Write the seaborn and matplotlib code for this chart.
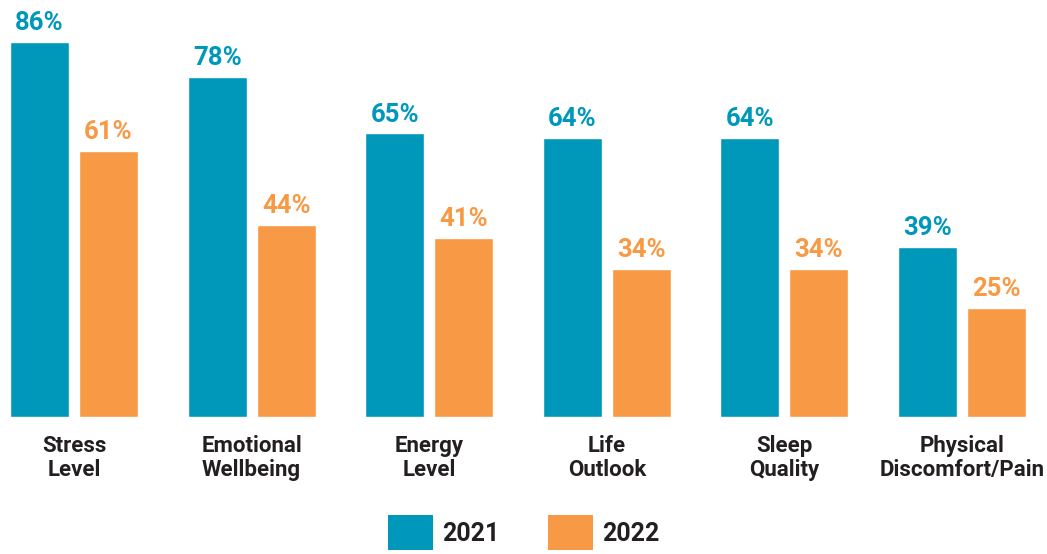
import matplotlib
matplotlib.use("Agg")
import matplotlib.pyplot as plt
from matplotlib.patches import Patch
import seaborn as sns
import pandas as pd

categories = ["Stress\nLevel", "Emotional\nWellbeing", "Energy\nLevel",
              "Life\nOutlook", "Sleep\nQuality", "Physical\nDiscomfort/Pain"]
values_2021 = [86, 78, 65, 64, 64, 39]
values_2022 = [61, 44, 41, 34, 34, 25]
years = ["2021", "2022"]

BLUE = "#0098BA"
ORANGE = "#F89A45"
DARK = "#231F20"

sns.set_theme(style="white")
plt.rcParams["font.family"] = ["Roboto", "DejaVu Sans"]

df = pd.DataFrame({
    "category": categories * 2,
    "value": values_2021 + values_2022,
    "year": [years[0]] * len(categories) + [years[1]] * len(categories),
})

fig = plt.figure(figsize=(10.47, 5.54), dpi=100)
ax = fig.add_axes([0, 137 / 554, 1, 417 / 554])

sns.barplot(data=df, x="category", y="value", hue="year",
            palette=[BLUE, ORANGE], width=0.777, gap=0.145,
            saturation=1, legend=False, ax=ax)

ax.set_xlim(-0.417, 5.479)
ax.set_ylim(0, 95.6)
ax.set_xlabel("")
ax.set_ylabel("")
ax.set_yticks([])
sns.despine(ax=ax, left=True, bottom=True)

for container, color in zip(ax.containers, [BLUE, ORANGE]):
    ax.bar_label(container, labels=[f"{v:.0f}%" for v in container.datavalues],
                 padding=5, color=color, fontsize=18.5, fontweight="bold")

ax.tick_params(axis="x", length=0, pad=13)
for lbl in ax.get_xticklabels():
    lbl.set_fontsize(16)
    lbl.set_fontweight("bold")
    lbl.set_color(DARK)
    lbl.set_linespacing(1.1)

handles = [Patch(facecolor=BLUE, edgecolor="none"),
           Patch(facecolor=ORANGE, edgecolor="none")]
leg = fig.legend(handles, years, loc="upper center",
                 bbox_to_anchor=(0.5, 1 - 515 / 554), ncol=2, frameon=False,
                 fontsize=18, handlelength=1.8, handleheight=1.8,
                 handletextpad=0.36, columnspacing=1.95, borderpad=0,
                 borderaxespad=0)
for t in leg.get_texts():
    t.set_fontweight("bold")
    t.set_color(DARK)

fig.savefig("out.png", dpi=100)
